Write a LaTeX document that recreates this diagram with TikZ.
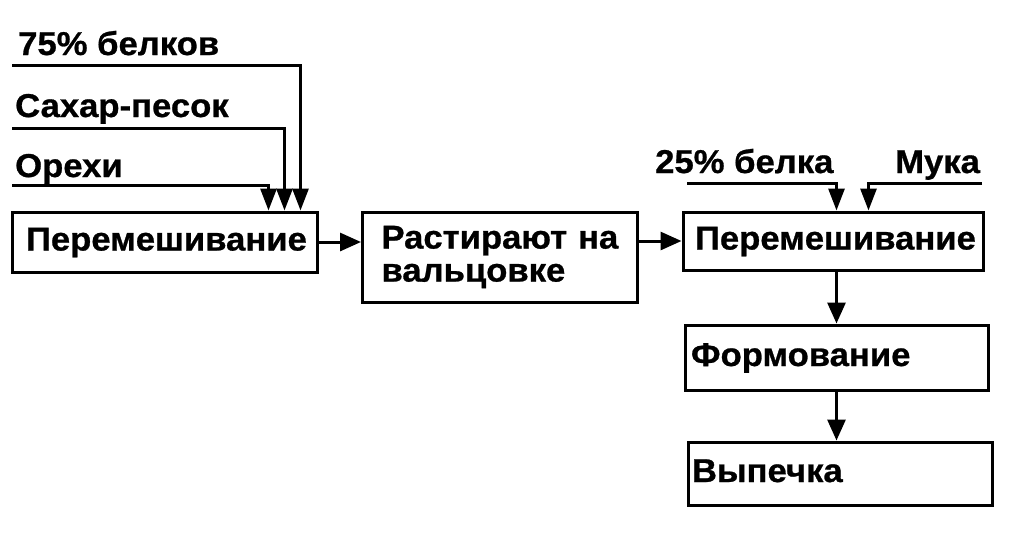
\documentclass[tikz,border=0pt]{standalone}
\usepackage{fontspec}
\setmainfont[FakeStretch=1.05, BoldFeatures={FakeBold=0.8}]{Liberation Sans}
\usetikzlibrary{arrows.meta}
\tikzset{
  box/.style={draw, line width=3pt, rectangle, align=left, font=\bfseries\fontsize{33}{33}\selectfont, inner ysep=0pt, text height=24pt, text depth=7pt},
  lbl/.style={font=\bfseries\fontsize{33}{33}\selectfont, inner sep=0pt, anchor=base west},
  flow/.style={line width=3pt, -{Triangle[width=18pt,length=21pt]}},
  feed/.style={line width=3pt, -{Triangle[width=16pt,length=22pt]}}
}
\begin{document}
\begin{tikzpicture}[x=1pt,y=-1pt]
\useasboundingbox (0,0) rectangle (1012,533);
% boxes
\node[box, minimum width=305pt, minimum height=60pt, text width=277pt, inner xsep=14pt] (b1) at (164.5,242) {Перемешивание};
\node[box, minimum width=275pt, minimum height=90pt, text width=237pt, inner xsep=19pt, text height={}, text depth={}] (b2) at (500,257) {Растирают на\\вальцовке};
\node[box, minimum width=300pt, minimum height=58pt, text width=276pt, inner xsep=12pt] (b3) at (833,241) {Перемешивание};
\node[box, minimum width=303pt, minimum height=65pt, text width=291pt, inner xsep=6pt] (b4) at (836.5,357.5) {Формование};
\node[box, minimum width=304pt, minimum height=63pt, text width=296pt, inner xsep=4pt] (b5) at (840,473.5) {Выпечка};
% labels
\node[lbl] (t1) at (18,55) {75\% белков};
\node[lbl] (t2) at (15,117) {Сахар-песок};
\node[lbl] (t3) at (15,177) {Орехи};
\node[lbl] (t4) at (655,173) {25\% белка};
\node[lbl] (t5) at (895,173) {Мука};
% feed line starts
\coordinate (s1) at (12,65);
\coordinate (s2) at (12,128);
\coordinate (s3) at (12,185);
\coordinate (s4) at (687,183);
\coordinate (s5) at (982,183);
\draw[feed] (s1) -| ([xshift=290pt]b1.north west);
\draw[feed] (s2) -| ([xshift=274pt]b1.north west);
\draw[feed] (s3) -| ([xshift=258pt]b1.north west);
\draw[feed] (s4) -| ([xshift=155pt]b3.north west);
\draw[feed] (s5) -| ([xshift=187pt]b3.north west);
% flow
\draw[flow] (b1.east) -- (b1.east -| b2.west);
\draw[flow] (b2.east |- b3.west) -- (b3.west);
\draw[flow] (b3.south -| b4.north) -- (b4.north);
\draw[flow] (b4.south) -- (b4.south |- b5.north);
\end{tikzpicture}
\end{document}
